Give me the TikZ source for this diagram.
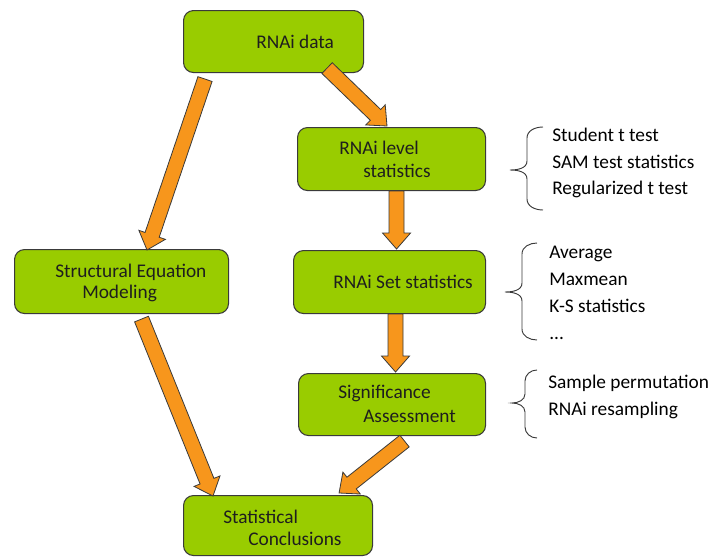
\documentclass[tikz,border=0pt]{standalone}
\usepackage{fontspec}
\setmainfont{Carlito}
\usetikzlibrary{calc}

\definecolor{boxgreen}{HTML}{99CC00}
\definecolor{boxline}{HTML}{3A3A3A}
\definecolor{arroworange}{HTML}{F7961C}
\definecolor{arrowline}{HTML}{3A3A3A}
\definecolor{inktext}{HTML}{1E1E1E}

\tikzset{
  stagebox/.style={draw=boxline, fill=boxgreen, rounded corners=7.5pt,
    line width=0.8pt, inner sep=0pt, anchor=north west},
  boxtext/.style={anchor=base west, inner sep=0pt, text=inktext,
    font=\fontsize{14.5pt}{17pt}\selectfont},
  listtext/.style={anchor=base west, inner sep=0pt, text=black,
    font=\fontsize{14.5pt}{17pt}\selectfont},
  arrowbody/.style={fill=arroworange, draw=arrowline, line width=0.6pt,
    line join=miter},
  bracestroke/.style={draw=boxline, line width=0.7pt}
}

% block arrow from #1 (tail centre) to #2 (tip)
\newcommand{\orangearrow}[2]{%
  \coordinate (headbase) at ($(#2)!12pt!(#1)$);
  \path[arrowbody]
    ($(#1)!5.6pt!90:(#2)$) -- ($(headbase)!5.6pt!90:(#2)$)
    -- ($(headbase)!10.5pt!90:(#2)$) -- (#2)
    -- ($(headbase)!10.5pt!-90:(#2)$) -- ($(headbase)!5.6pt!-90:(#2)$)
    -- ($(#1)!5.6pt!-90:(#2)$) -- cycle;
}

% left curly brace: tip x, spine x, arm x, top y, tip y, bottom y
\newcommand{\leftcurly}[6]{%
  \path[bracestroke]
    (#3,#4) to[out=180,in=90] (#2,#4+11) -- (#2,#5-9)
    to[out=-90,in=0] (#1,#5) to[out=0,in=90] (#2,#5+9)
    -- (#2,#6-11) to[out=-90,in=180] (#3,#6);
}

\begin{document}
\begin{tikzpicture}[x=0.75pt, y=-0.75pt]
\useasboundingbox (0,0) rectangle (715,557);

% stage boxes
\node[stagebox, minimum width=0.75*180pt, minimum height=0.75*62pt] (data)  at (183,10)  {};
\node[stagebox, minimum width=0.75*188pt, minimum height=0.75*63pt] (level) at (297,127) {};
\node[stagebox, minimum width=0.75*192pt, minimum height=0.75*63pt] (set)   at (293,250) {};
\node[stagebox, minimum width=0.75*187pt, minimum height=0.75*62pt] (sig)   at (298,373) {};
\node[stagebox, minimum width=0.75*214pt, minimum height=0.75*64pt] (sem)   at (14,249)  {};
\node[stagebox, minimum width=0.75*189pt, minimum height=0.75*60pt] (concl) at (183,495) {};

% box labels
\node[boxtext] (tdata)   at (256,48)  {RNAi data};
\node[boxtext] (tlevel1) at (339,154) {RNAi level};
\node[boxtext] (tlevel2) at (363,177) {statistics};
\node[boxtext] (tset)    at (333,288) {RNAi Set statistics};
\node[boxtext] (tsig1)   at (338,398) {Significance};
\node[boxtext] (tsig2)   at (363,422) {Assessment};
\node[boxtext] (tsem1)   at (55,277)  {Structural Equation};
\node[boxtext] (tsem2)   at (82,298)  {Modeling};
\node[boxtext] (tcon1)   at (223,523) {Statistical};
\node[boxtext] (tcon2)   at (248,545) {Conclusions};

% arrow end points, tied to the boxes
\coordinate (a1s) at ([shift={(22,6)}]data.south west);
\coordinate (a1t) at ([shift={(133,1)}]sem.north west);
\coordinate (a2s) at ([shift={(-37,-5)}]data.south east);
\coordinate (a2t) at ([shift={(90,-1)}]level.north west);
\coordinate (a3s) at ([shift={(5,0)}]level.south);
\coordinate (a3t) at ([shift={(7,-1)}]set.north);
\coordinate (a4s) at ([shift={(6,0)}]set.south);
\coordinate (a4t) at ([shift={(3.5,-1)}]sig.north);
\coordinate (a5s) at ([shift={(20,5)}]sem.south);
\coordinate (a5t) at ([shift={(30,1)}]concl.north west);
\coordinate (a6s) at ([shift={(12.5,5)}]sig.south);
\coordinate (a6t) at ([shift={(-34,-2)}]concl.north east);

\orangearrow{a1s}{a1t}
\orangearrow{a2s}{a2t}
\orangearrow{a3s}{a3t}
\orangearrow{a4s}{a4t}
\orangearrow{a5s}{a5t}
\orangearrow{a6s}{a6t}

% method lists with braces
\leftcurly{510}{527}{543}{127}{170}{210}
\node[listtext] (m1) at (552,141) {Student t test};
\node[listtext] (m2) at (552,168) {SAM test statistics};
\node[listtext] (m3) at (552,194) {Regularized t test};

\leftcurly{505}{522}{537}{243}{292}{340}
\node[listtext] (s1) at (549,258) {Average};
\node[listtext] (s2) at (549,285) {Maxmean};
\node[listtext] (s3) at (549,312) {K-S statistics};
\node[listtext] (s4) at (549,339) {...};

\leftcurly{512}{525}{537}{370}{403}{438}
\node[listtext] (p1) at (548,388) {Sample permutation};
\node[listtext] (p2) at (548,415) {RNAi resampling};
\end{tikzpicture}
\end{document}
